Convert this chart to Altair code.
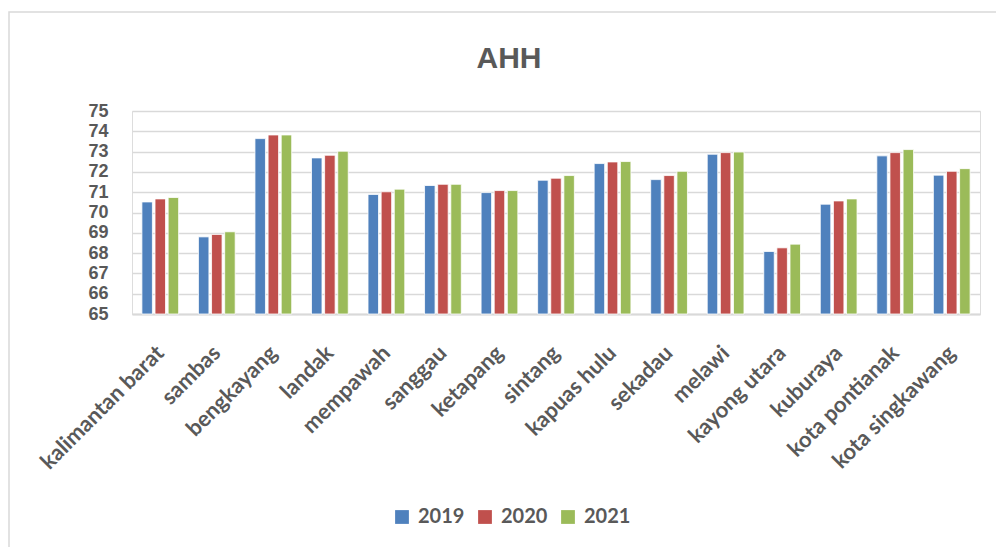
import altair as alt
import pandas as pd

regions = ["kalimantan barat", "sambas", "bengkayang", "landak", "mempawah",
           "sanggau", "ketapang", "sintang", "kapuas hulu", "sekadau",
           "melawi", "kayong utara", "kuburaya", "kota pontianak", "kota singkawang"]
years = ["2019", "2020", "2021"]
ahh_2019 = [70.52, 68.80, 73.64, 72.69, 70.89, 71.33, 70.98, 71.59, 72.41, 71.62,
            72.87, 68.08, 70.41, 72.79, 71.84]
ahh_2020 = [70.67, 68.92, 73.82, 72.82, 71.02, 71.39, 71.08, 71.69, 72.49, 71.82,
            72.95, 68.26, 70.57, 72.95, 72.03]
ahh_2021 = [70.74, 69.05, 73.82, 73.02, 71.15, 71.39, 71.08, 71.82, 72.51, 72.03,
            72.98, 68.44, 70.67, 73.10, 72.16]
colors = ["#4F81BD", "#C0504D", "#9BBB59"]

rows = []
for y, vals in zip(years, [ahh_2019, ahh_2020, ahh_2021]):
    for r, v in zip(regions, vals):
        rows.append({"region": r, "year": y, "ahh": v})
df = pd.DataFrame(rows)

FONT = "Lato"
GREY = "#595959"
W, H = 848, 203

bars = alt.Chart(df).mark_bar(stroke="white", strokeWidth=0.8).encode(
    x=alt.X("region:N", sort=regions, title=None,
            scale=alt.Scale(paddingInner=0.35, paddingOuter=0.175),
            axis=alt.Axis(labelAngle=-45, labelAlign="right", labelBaseline="top",
                          labelFont=FONT, labelFontSize=22, labelFontWeight="bold",
                          labelColor=GREY, labelPadding=28, labelOffset=-7, ticks=False,
                          domainColor="#d9d9d9", domainWidth=2, grid=False,
                          labelLimit=300, labelOverlap=False)),
    xOffset=alt.XOffset("year:N", scale=alt.Scale(paddingInner=0.2)),
    y=alt.Y("ahh:Q", title=None,
            scale=alt.Scale(domain=[65, 75], nice=False, zero=False),
            axis=alt.Axis(values=list(range(65, 76)), labelFont="Liberation Sans",
                          labelFontSize=18, labelFontWeight="bold", labelColor=GREY,
                          labelPadding=24, labelOverlap=False, ticks=False, domain=False,
                          gridColor="#d9d9d9", gridWidth=1.6)),
    y2=alt.datum(65),
    color=alt.Color("year:N", scale=alt.Scale(domain=years, range=colors), title=None,
                    legend=alt.Legend(orient="none", legendX=260, legendY=396,
                                      direction="horizontal", symbolType="square",
                                      symbolSize=190, symbolStrokeWidth=0,
                                      labelFont=FONT, labelFontSize=20,
                                      labelFontWeight="bold", labelColor=GREY,
                                      labelOffset=6, columnPadding=10)),
)

border = alt.Chart(alt.Data(values=[{"a": 1}])).mark_rect(
    fill=None, stroke="#d9d9d9", strokeWidth=1.5
).encode(
    x=alt.value(-123), x2=alt.value(W + 60),
    y=alt.value(-99), y2=alt.value(H + 300),
)

chart = alt.layer(border, bars).properties(
    width=W, height=H,
    title=alt.TitleParams("AHH", font="Liberation Sans", fontSize=30, fontWeight="bold",
                          color=GREY, anchor="middle", dx=-47, offset=-63),
    autosize=alt.AutoSizeParams(type="none"),
    padding={"left": 132, "top": 111, "right": 16, "bottom": 233},
).configure_view(stroke=None).configure(background="white")

chart.save("out.html", embed_options={"renderer": "svg", "actions": False})
